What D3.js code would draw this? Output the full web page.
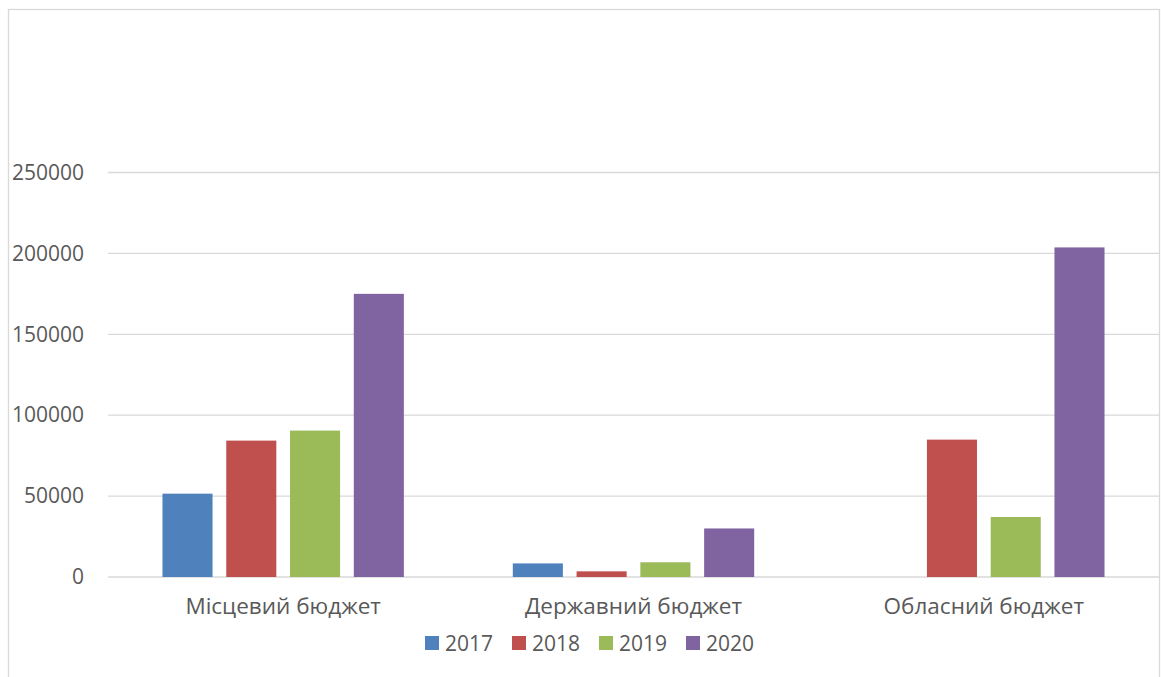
<!DOCTYPE html>
<html>
<head>
<meta charset="utf-8">
<title>Бюджет</title>
<script src="https://d3js.org/d3.v7.min.js"></script>
<style>
  body { margin: 0; background: #fff; }
  text { font-family: "Open Sans", "Noto Sans", sans-serif; fill: #595959; }
</style>
</head>
<body>
<svg width="1161" height="677"></svg>
<script>
// data
var categories = ["Місцевий бюджет", "Державний бюджет", "Обласний бюджет"];
var years = ["2017", "2018", "2019", "2020"];
var v2017 = [51500, 8400, 0];
var v2018 = [84300, 3500, 84900];
var v2019 = [90500, 9100, 37100];
var v2020 = [175000, 30000, 203700];
var yTicks = [0, 50000, 100000, 150000, 200000, 250000];
var colors = ["#4F81BD", "#C0504D", "#9BBB59", "#8064A2"];

var series = [v2017, v2018, v2019, v2020];
var data = categories.map(function (c, i) {
  return { cat: c, vals: years.map(function (yr, j) { return { year: yr, v: series[j][i] }; }) };
});

var svg = d3.select("svg");

// chart frame
svg.append("rect")
  .attr("x", 8.5).attr("y", 9.5)
  .attr("width", 1151).attr("height", 720)
  .attr("fill", "none").attr("stroke", "#d9d9d9").attr("stroke-width", 1.3);

var left = 108, right = 1159, bottom = 577;

var y = d3.scaleLinear().domain([0, 300000]).range([bottom, bottom - 6 * 80.9]);
var x0 = d3.scaleBand().domain(categories).range([left, right])
  .paddingInner(0.311).paddingOuter(0.1555);
var x1 = d3.scaleBand().domain(years).range([0, x0.bandwidth()])
  .paddingInner(0.215).paddingOuter(0);
var color = d3.scaleOrdinal().domain(years).range(colors);

// gridlines
svg.append("g").selectAll("line").data(yTicks).enter().append("line")
  .attr("x1", left).attr("x2", right)
  .attr("y1", function (d) { return y(d); })
  .attr("y2", function (d) { return y(d); })
  .attr("stroke", "#d9d9d9").attr("stroke-width", 1.3);

// y axis labels
var yAxis = svg.append("g").attr("transform", "translate(" + left + ",0)")
  .call(d3.axisLeft(y).tickValues(yTicks).tickFormat(d3.format("d")).tickSize(0).tickPadding(24));
yAxis.select(".domain").remove();
yAxis.selectAll("text").style("font-size", "21px").attr("fill", "#595959")
  .style("font-family", "'Open Sans', sans-serif");

// bars
var groups = svg.append("g").selectAll("g").data(data).enter().append("g")
  .attr("transform", function (d) { return "translate(" + x0(d.cat) + ",0)"; });
groups.selectAll("rect").data(function (d) { return d.vals; }).enter().append("rect")
  .attr("x", function (d) { return x1(d.year); })
  .attr("width", x1.bandwidth())
  .attr("y", function (d) { return y(d.v); })
  .attr("height", function (d) { return y(0) - y(d.v); })
  .attr("fill", function (d) { return color(d.year); });

// category labels
var xAxis = svg.append("g").attr("transform", "translate(0," + bottom + ")")
  .call(d3.axisBottom(x0).tickSize(0).tickPadding(21));
xAxis.select(".domain").remove();
xAxis.selectAll("text").style("font-size", "22.5px").attr("fill", "#595959")
  .style("font-family", "'Open Sans', sans-serif");

// legend
var legend = svg.append("g").selectAll("g").data(years).enter().append("g")
  .attr("transform", function (d, i) { return "translate(" + (425 + i * 87) + ",636)"; });
legend.append("rect").attr("width", 14).attr("height", 14)
  .attr("fill", function (d) { return color(d); });
legend.append("text").attr("x", 20).attr("y", 14.5)
  .style("font-size", "21px").text(function (d) { return d; });
</script>
</body>
</html>
